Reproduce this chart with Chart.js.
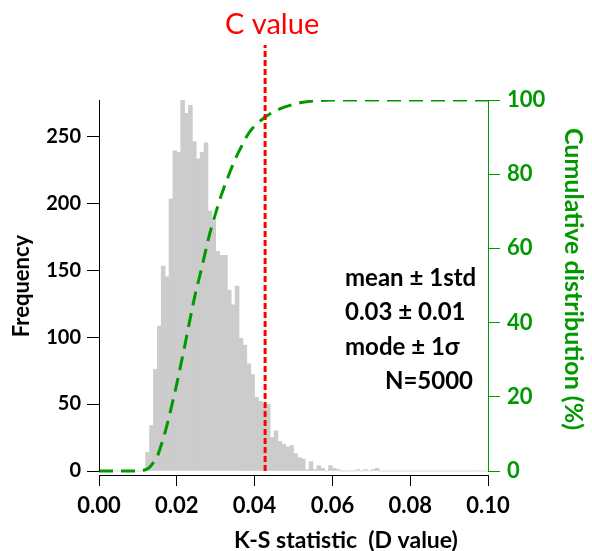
<!DOCTYPE html>
<html>
<head>
<meta charset="utf-8">
<script src="https://cdn.jsdelivr.net/npm/chart.js@4/dist/chart.umd.min.js"></script>
<style>
html,body{margin:0;padding:0;background:#fff;}
canvas{display:block;}
</style>
</head>
<body>
<canvas id="c" width="592" height="551"></canvas>
<script>
// ---- data ----
const binWidth = 0.001;
// histogram counts per 0.001-wide bin, starting at D = 0
const counts = [
  0,0,0,0,0,0,0,0,0,0,
  0,0,14,34,76,108,153,145,203,239,
  238,277,267,273,246,233,238,245,194,187,
  164,161,161,135,124,138,99,94,80,72,
  55,52,50,50,25,30,22,20,18,19,
  13,10,9,1,7,1,4,2,0,4,
  2,1,0,0,0,0,1,0,1,0,
  1,2,0,0,0,0,0,0,0,0,
  0,0,0,0,0,0,0,0,0,0,
  0,0,0,0,0,0,0,0,0,0
];
// cumulative distribution (%)
const cumX = [0, 0.005, 0.010, 0.0115, 0.013, 0.014, 0.015, 0.016, 0.017, 0.018, 0.019, 0.020,
              0.021, 0.022, 0.023, 0.024, 0.025, 0.026, 0.027, 0.028, 0.029, 0.030, 0.031,
              0.032, 0.033, 0.034, 0.035, 0.036, 0.037, 0.038, 0.039, 0.040, 0.041, 0.042,
              0.043, 0.044, 0.046, 0.048, 0.050, 0.052, 0.055, 0.060, 0.070, 0.080, 0.090, 0.100];
const cumY = [0, 0, 0, 0.2, 1, 2.3, 4, 7, 10.5, 14.5, 19, 23.5,
              28.5, 33.5, 38.8, 44, 48.8, 53, 57.5, 62, 66, 69.5, 73,
              76, 78.8, 81.5, 84, 86.2, 88.2, 90.2, 91.8, 93, 94, 94.8,
              95.6, 96.3, 97.4, 98.2, 98.8, 99.3, 99.7, 100, 100, 100, 100, 100];
const cValue = 0.0427;
const xTicks = [0, 0.02, 0.04, 0.06, 0.08, 0.10];
const leftTicks = [0, 50, 100, 150, 200, 250];
const rightTicks = [0, 20, 40, 60, 80, 100];
const statsLines = ['mean \u00b1 1std', '0.03 \u00b1 0.01', 'mode \u00b1 1\u03c3', 'N=5000'];
const xTitle = 'K-S statistic  (D value)';
const yTitle = 'Frequency';
const y2Title = 'Cumulative distribution (%)';

const GREEN = 'rgb(0,153,0)';
const RED = 'rgb(255,0,0)';
const FONT = 'Lato, "Open Sans", "DejaVu Sans", sans-serif';

const histData = counts.map((c, i) => ({x: (i + 0.5) * binWidth, y: c}));
const cumData = cumX.map((x, i) => ({x: x, y: cumY[i]}));
const cLine = [{x: cValue, y: 0}, {x: cValue, y: 114.8}];

const overlay = {
  id: 'overlay',
  afterDatasetsDraw(chart) {
    const ctx = chart.ctx;
    const ys = chart.scales.y, y2 = chart.scales.y2, xs = chart.scales.x;
    const ca = chart.chartArea;
    ctx.save();
    // left axis line
    ctx.strokeStyle = '#000';
    ctx.lineWidth = 1;
    ctx.beginPath();
    ctx.moveTo(Math.round(ca.left) + 0.5, ys.getPixelForValue(0) + 0.5);
    ctx.lineTo(Math.round(ca.left) + 0.5, ys.getPixelForValue(ys.max));
    ctx.stroke();
    // right axis line
    ctx.strokeStyle = GREEN;
    ctx.beginPath();
    ctx.moveTo(Math.round(ca.right) + 0.5, y2.getPixelForValue(0) + 0.5);
    ctx.lineTo(Math.round(ca.right) + 0.5, y2.getPixelForValue(100));
    ctx.stroke();
    // C value label
    ctx.fillStyle = RED;
    ctx.font = '29px ' + FONT;
    ctx.textAlign = 'center';
    ctx.textBaseline = 'middle';
    ctx.fillText('C value', xs.getPixelForValue(cValue) + 7, 25);
    // stats text
    ctx.fillStyle = '#000';
    ctx.font = 'bold 24px ' + FONT;
    ctx.textAlign = 'left';
    const tops = [278, 312, 347, 381];
    for (let i = 0; i < 3; i++) ctx.fillText(statsLines[i], 345, tops[i]);
    ctx.textAlign = 'right';
    ctx.fillText(statsLines[3], 473, tops[3]);
    // axis titles
    ctx.textAlign = 'center';
    ctx.fillStyle = '#000';
    ctx.font = 'bold 23px ' + FONT;
    ctx.fillText(xTitle, 346, 541);
    ctx.save();
    ctx.translate(22, 286);
    ctx.rotate(-Math.PI / 2);
    ctx.font = 'bold 22px ' + FONT;
    ctx.fillText(yTitle, 0, 0);
    ctx.restore();
    ctx.save();
    ctx.translate(573, 279);
    ctx.rotate(Math.PI / 2);
    ctx.fillStyle = GREEN;
    ctx.font = 'bold 25px ' + FONT;
    ctx.fillText(y2Title, 0, 0);
    ctx.restore();
    ctx.restore();
  }
};

new Chart(document.getElementById('c'), {
  type: 'bar',
  data: {
    datasets: [
      {
        type: 'line', data: cLine, yAxisID: 'y2', borderColor: RED, borderWidth: 3,
        borderDash: [6, 3], pointRadius: 0, clip: false, order: 1
      },
      {
        type: 'line', data: cumData, yAxisID: 'y2', borderColor: GREEN, borderWidth: 3,
        borderDash: [14, 8], pointRadius: 0, cubicInterpolationMode: 'monotone', order: 2
      },
      {
        type: 'bar', data: histData, yAxisID: 'y', backgroundColor: '#cccccc',
        borderWidth: 0, barPercentage: 1, categoryPercentage: 1, order: 3
      }
    ]
  },
  options: {
    responsive: false,
    animation: false,
    devicePixelRatio: 1,
    layout: {padding: {top: 100, left: 0, right: 0, bottom: 0}},
    plugins: {legend: {display: false}, tooltip: {enabled: false}},
    scales: {
      x: {
        type: 'linear', min: 0, max: 0.1, offset: false,
        afterBuildTicks: s => { s.ticks = xTicks.map(v => ({value: v})); },
        afterFit: s => { s.height = 76; },
        ticks: {
          color: '#000', padding: 7, maxRotation: 0, autoSkip: false,
          font: {family: FONT, size: 22, weight: 'bold'},
          callback: v => Number(v).toFixed(2)
        },
        grid: {display: true, drawOnChartArea: false, drawTicks: true, tickLength: 11, color: '#000', offset: false},
        border: {display: true, color: '#000', width: 1},
        title: {display: false}
      },
      y: {
        position: 'left', min: -2.986, max: 277,
        afterBuildTicks: s => { s.ticks = leftTicks.map(v => ({value: v})); },
        afterFit: s => { s.width = 99; },
        ticks: {color: '#000', padding: 6, font: {family: FONT, size: 20, weight: 'bold'}},
        grid: {display: true, drawOnChartArea: false, drawTicks: true, tickLength: 12, color: '#000'},
        border: {display: false},
        title: {display: false}
      },
      y2: {
        position: 'right', min: -1.078, max: 100,
        afterBuildTicks: s => { s.ticks = rightTicks.map(v => ({value: v})); },
        afterFit: s => { s.width = 104; },
        ticks: {color: GREEN, padding: 7, font: {family: FONT, size: 22, weight: 'bold'}},
        grid: {display: true, drawOnChartArea: false, drawTicks: true, tickLength: 12, color: GREEN},
        border: {display: false},
        title: {display: false}
      }
    }
  },
  plugins: [overlay]
});
</script>
</body>
</html>
